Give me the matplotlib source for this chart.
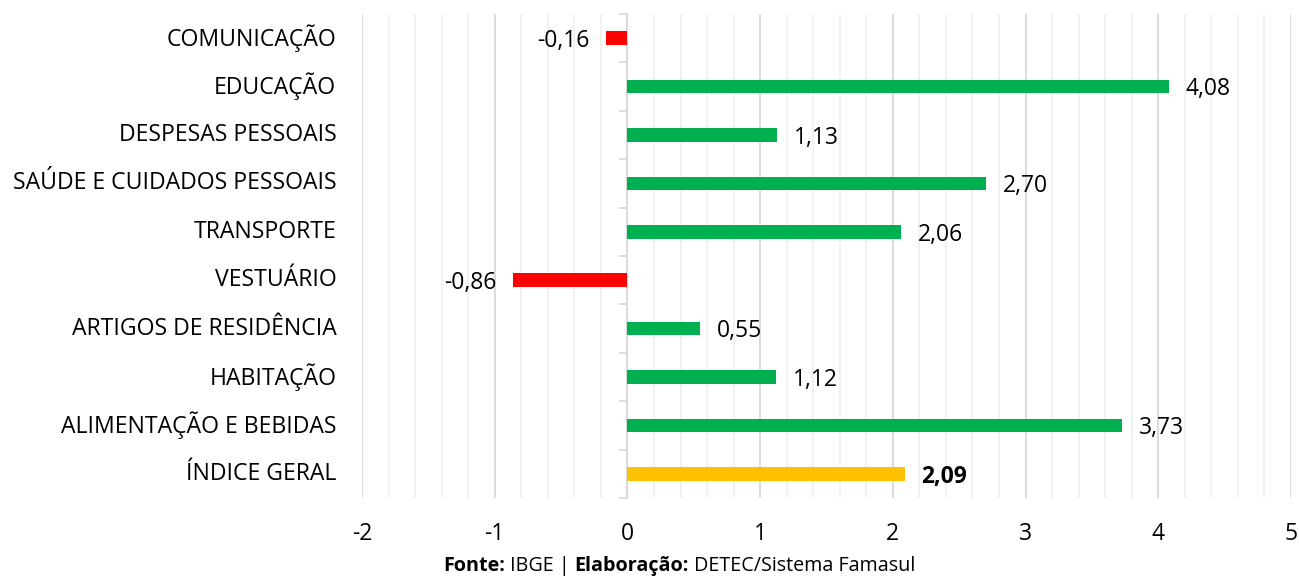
import matplotlib
matplotlib.use("Agg")
import matplotlib.pyplot as plt
import numpy as np

plt.rcParams['font.family'] = ['Open Sans', 'DejaVu Sans']

categories = ["ÍNDICE GERAL", "ALIMENTAÇÃO E BEBIDAS", "HABITAÇÃO",
              "ARTIGOS DE RESIDÊNCIA", "VESTUÁRIO", "TRANSPORTE",
              "SAÚDE E CUIDADOS PESSOAIS", "DESPESAS PESSOAIS",
              "EDUCAÇÃO", "COMUNICAÇÃO"]
values = [2.09, 3.73, 1.12, 0.55, -0.86, 2.06, 2.70, 1.13, 4.08, -0.16]
x_ticks = [-2, -1, 0, 1, 2, 3, 4, 5]

GREEN = "#00b050"
RED = "#ff0000"
GOLD = "#ffc000"

colors = []
for i, v in enumerate(values):
    if i == 0:
        colors.append(GOLD)
    elif v < 0:
        colors.append(RED)
    else:
        colors.append(GREEN)

fig = plt.figure(figsize=(12.99, 5.77), dpi=100)
ax = fig.add_axes([362/1299, 1 - 498/577, (1291 - 362)/1299, (498 - 14)/577])

y = np.arange(len(categories))
ax.barh(y, values, height=0.28, color=colors, zorder=3)

xmin, xmax = -2, 5
ax.set_xlim(xmin, xmax)
ax.set_ylim(-0.5, len(categories) - 0.5)

# grid: integer lines and lighter 0.2 subdivisions
ax.set_xticks(x_ticks)
ax.set_xticks(np.arange(xmin, xmax + 0.001, 0.2), minor=True)
ax.grid(axis='x', which='major', color='#d9d9d9', linewidth=1.3, zorder=0)
ax.grid(axis='x', which='minor', color='#f0f0f0', linewidth=1.3, zorder=0)
ax.tick_params(axis='x', which='both', length=0, labelsize=16.5, pad=17)
ax.set_xticklabels([str(t) for t in x_ticks])

ax.set_yticks(y)
ax.set_yticklabels(categories, fontsize=16.6, va='center')
ax.tick_params(axis='y', which='both', length=0, pad=18.5)
for lbl in ax.get_yticklabels():
    lbl.set_y(lbl.get_position()[1])
for s in ax.spines.values():
    s.set_visible(False)

# category axis drawn at x = 0 with boundary ticks
sec = ax.secondary_yaxis((0 - xmin) / (xmax - xmin))
sec.spines['left'].set_color('#d9d9d9')
sec.spines['left'].set_linewidth(1.3)
sec.set_yticks(np.arange(-0.5, len(categories), 1.0))
sec.set_yticklabels([])
sec.tick_params(axis='y', length=6, width=1.3, color='#d9d9d9', direction='out')

# value labels
for i, v in enumerate(values):
    txt = f"{v:.2f}".replace('.', ',')
    if v >= 0:
        ax.annotate(txt, (v, i), xytext=(12, -2), textcoords='offset points',
                    ha='left', va='center', fontsize=16.5,
                    fontweight='bold' if i == 0 else 'normal')
    else:
        ax.annotate(txt, (v, i), xytext=(-12, -2), textcoords='offset points',
                    ha='right', va='center', fontsize=16.5)

# source line
fy = 1 - 566/577
fs = 14.2
t1 = fig.text(443/1299, fy, "Fonte:", fontsize=fs, fontweight='bold',
              va='center', ha='left')
t2 = fig.text(0, fy, " IBGE | ", fontsize=fs, va='center', ha='left')
t3 = fig.text(0, fy, "Elaboração:", fontsize=fs, fontweight='bold', va='center', ha='left')
t4 = fig.text(0, fy, " DETEC/Sistema Famasul", fontsize=fs, va='center', ha='left')
fig.canvas.draw()
r = fig.canvas.get_renderer()
prev = t1
for t in (t2, t3, t4):
    bb = prev.get_window_extent(r)
    t.set_position((bb.x1 / fig.bbox.width, fy))
    fig.canvas.draw()
    prev = t

fig.savefig("out.png", dpi=100)
